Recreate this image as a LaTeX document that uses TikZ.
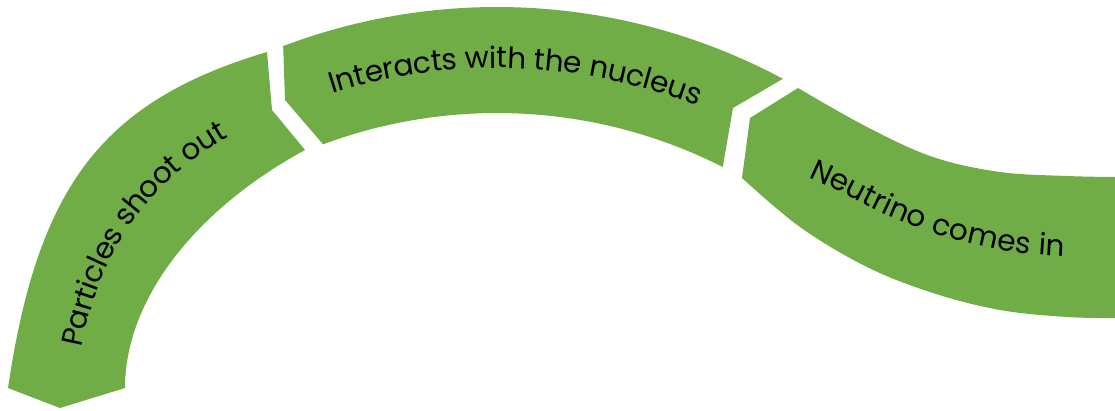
\documentclass[tikz,border=0pt]{standalone}
\usepackage{fontspec}
\newfontfamily\bandfont{Poppins}
\usetikzlibrary{decorations.text}
\definecolor{bandgreen}{HTML}{70AD47}
\begin{document}
\begin{tikzpicture}[x=1pt,y=-1pt,
  band/.style={fill=bandgreen, draw=none},
  bandlabel/.style={decorate, decoration={text along path, text color=black, raise=-8pt, #1}}]
\useasboundingbox (0,0) rectangle (1115,411);

% segment 1: Particles shoot out
\path[band] (8,388) .. controls (38,185) and (103,101) .. (267,52)
  -- (272,110) -- (305,150)
  .. controls (193,211) and (125,301) .. (125,388)
  -- (60,408) -- cycle;

% segment 2: Interacts with the nucleus
\path[band] plot[domain=-20.7:28.2, samples=80] ({497+605*sin(\x)},{612-605*cos(\x)})
  -- (733,108)
  -- plot[domain=26.9:-20.4, samples=80] ({497+499*sin(\x)},{612-499*cos(\x)})
  -- (285,100) -- cycle;

% segment 3: Neutrino comes in
\path[band] (742,178) -- (750,118)
  -- plot[smooth, tension=0.6] coordinates {(798,88) (867,127) (933,157) (1000,172) (1067,176) (1115,177)}
  -- (1115,318)
  -- plot[smooth, tension=0.6] coordinates {(1115,318) (1067,317) (1000,310) (933,293) (867,267) (800,227) (742,178)}
  -- cycle;

% labels
\path[bandlabel={text={|\bandfont\fontsize{29.5}{32}\selectfont|Particles shoot out}, text align=center}]
  (65,414) -- (66,398) .. controls (81.5,243) and (148,156) .. (286,101);
\path[bandlabel={text={|\bandfont\fontsize{29.5}{32}\selectfont|Interacts with the nucleus}, text align=center}]
  plot[domain=-22.5:26.5, samples=80] ({497+552*sin(\x)},{612-552*cos(\x)});
\path[bandlabel={text={|\bandfont\fontsize{29.5}{32}\selectfont|Neutrino comes in}}]
  plot[smooth, tension=0.6] coordinates {(812,170) (840,183) (902,213) (965,234) (1030,246) (1115,250) (1160,251)};
\end{tikzpicture}
\end{document}
